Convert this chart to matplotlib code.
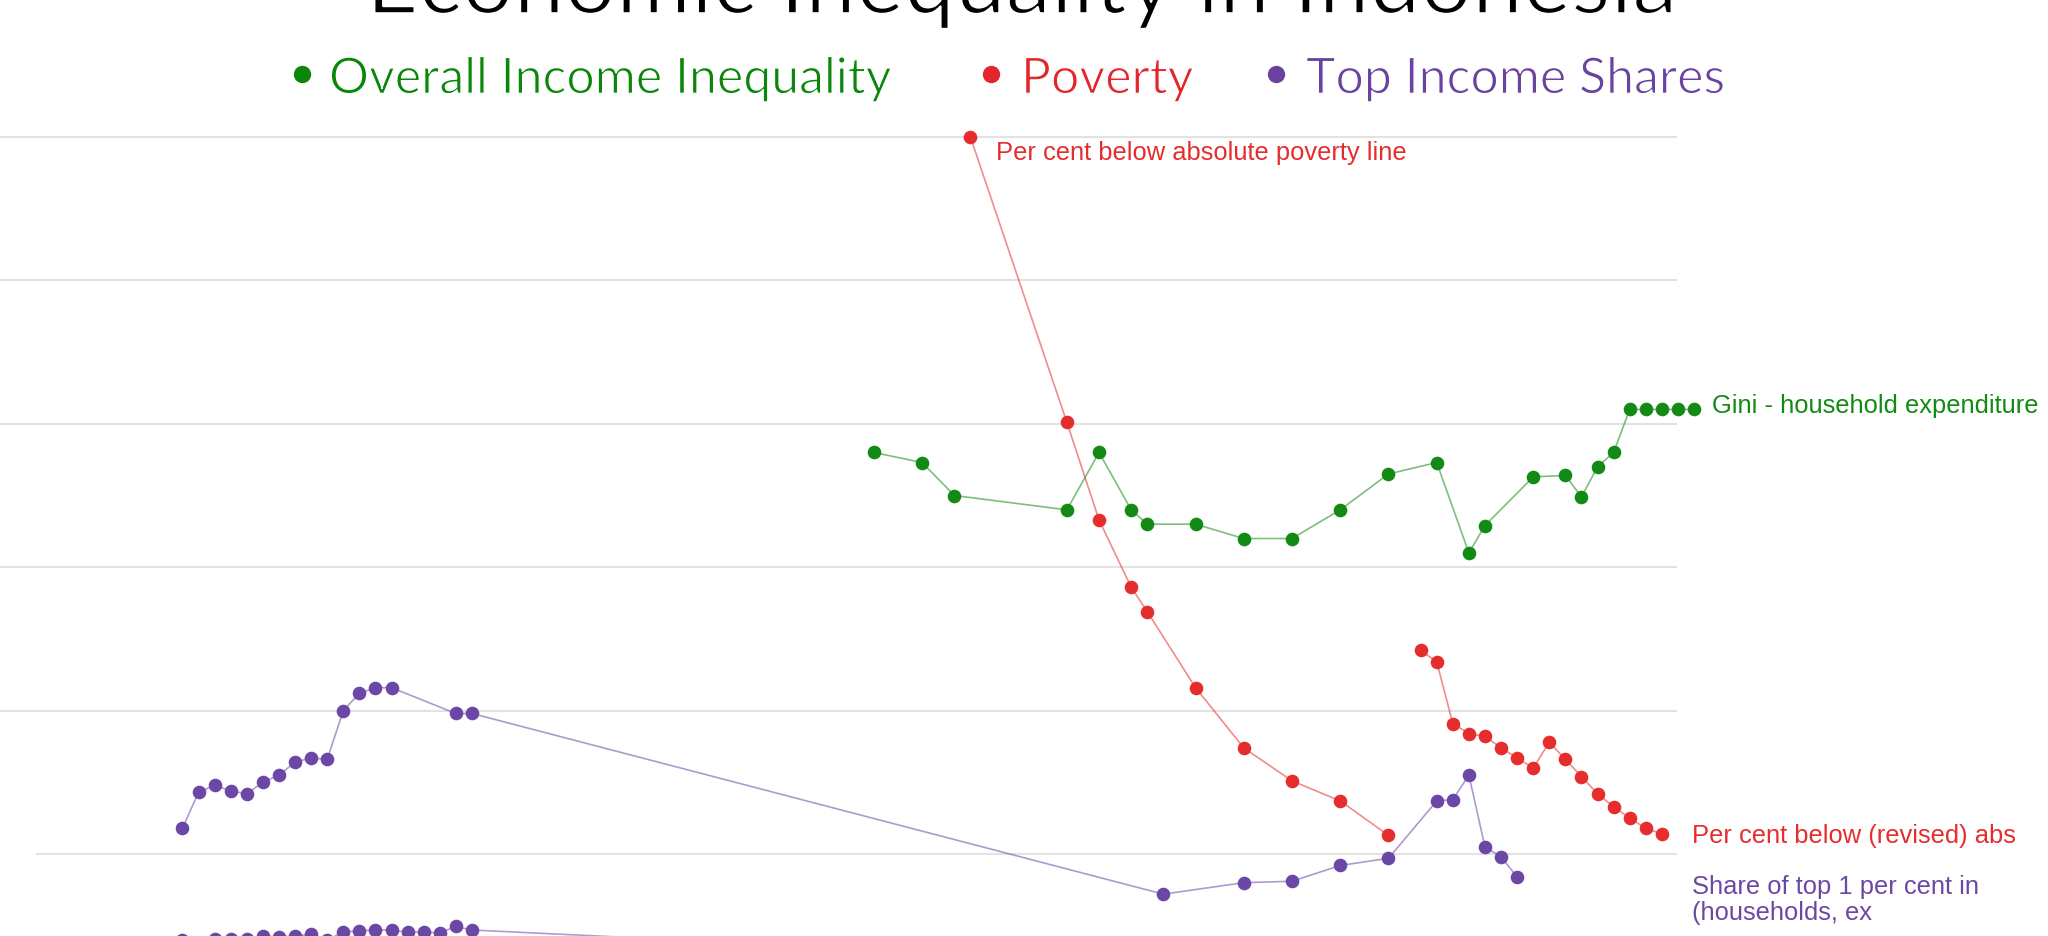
import matplotlib
matplotlib.use('Agg')
import matplotlib.pyplot as plt
import matplotlib.patheffects as pe

W, H = 2048, 936

# ---- data (per cent) ----
gini_years = [1964, 1967, 1969, 1976, 1978, 1980, 1981, 1984, 1987, 1990, 1993, 1996,
              1999, 2001, 2002, 2005, 2007, 2008, 2009, 2010, 2011, 2012, 2013, 2014, 2015]
gini_values = [38.0, 37.3, 35.0, 34.0, 38.0, 34.0, 33.0, 33.0, 32.0, 32.0, 34.0, 36.5,
               37.3, 31.0, 32.9, 36.3, 36.4, 34.9, 37.0, 38.0, 41.0, 41.0, 41.0, 41.0, 41.0]

poverty_years = [1970, 1976, 1978, 1980, 1981, 1984, 1987, 1990, 1993, 1996]
poverty_values = [60.0, 40.1, 33.3, 28.6, 26.9, 21.6, 17.4, 15.1, 13.7, 11.3]

revised_years = [1998, 1999, 2000, 2001, 2002, 2003, 2004, 2005, 2006, 2007,
                 2008, 2009, 2010, 2011, 2012, 2013]
revised_values = [24.2, 23.4, 19.1, 18.4, 18.2, 17.4, 16.7, 16.0, 17.8, 16.6,
                  15.4, 14.2, 13.3, 12.5, 11.8, 11.4]

top1_years = [1921, 1922, 1923, 1924, 1925, 1926, 1927, 1928, 1929, 1930, 1931, 1932,
              1933, 1934, 1938, 1939, 1982, 1987, 1990, 1993, 1996, 1999, 2000, 2001,
              2002, 2003, 2004]
top1_values = [11.8, 14.3, 14.8, 14.4, 14.2, 15.0, 15.5, 16.4, 16.7, 16.6, 20.0, 21.2,
               21.6, 21.6, 19.8, 19.8, 7.2, 8.0, 8.1, 9.2, 9.7, 13.7, 13.8, 15.5,
               10.5, 9.8, 8.4]

# second top-share series, mostly cut off at the bottom edge
top01_years = [1921, 1922, 1923, 1924, 1925, 1926, 1927, 1928, 1929, 1930, 1931, 1932,
               1933, 1934, 1935, 1936, 1937, 1938, 1939, 1982]
top01_values = [4.0, 3.8, 4.08, 4.08, 4.08, 4.28, 4.21, 4.28, 4.4, 4.0, 4.56, 4.65,
                4.7, 4.7, 4.54, 4.58, 4.49, 4.95, 4.7, 2.4]

grid_values = [10, 20, 30, 40, 50, 60]

GREEN = '#138a13'
RED = '#e52d2d'
PURPLE = '#6b48a6'

# pixel <-> data mapping of the original
X0_YEAR, X0_PX, PX_YEAR = 1970, 970.4, 16.08
Y0_VAL, Y0_PX, PX_UNIT = 10, 854, 14.34


def px_to_year(x):
    return X0_YEAR + (x - X0_PX) / PX_YEAR


fig = plt.figure(figsize=(W / 100, H / 100), dpi=100)
ax = fig.add_axes([0, 0, 1, 1])
ax.set_axis_off()
ax.set_xlim(px_to_year(0), px_to_year(W))
ax.set_ylim(Y0_VAL - (H - Y0_PX) / PX_UNIT, Y0_VAL + Y0_PX / PX_UNIT)

# gridlines
for v in grid_values:
    start = 36 if v == 10 else 0
    ax.hlines(v, px_to_year(start), px_to_year(1677), color='#e2e2e2', lw=1.5, zorder=0)

series = [
    (gini_years, gini_values, GREEN),
    (poverty_years, poverty_values, RED),
    (revised_years, revised_values, RED),
    (top1_years, top1_values, PURPLE),
    (top01_years, top01_values, PURPLE),
]
for xs, ys, c in series:
    ax.plot(xs, ys, '-', color=c, alpha=0.55, lw=1.2, zorder=2)
    ax.plot(xs, ys, 'o', color=c, ms=9.8, mec='none', zorder=3)

renderer = fig.canvas.get_renderer()


def ptext(x, y, s, **kw):
    return fig.text(x / W, 1 - y / H, s, ha='left', va='baseline', **kw)


def fit(texts, widths):
    total = sum(t.get_window_extent(renderer).width for t in texts)
    k = sum(widths) / total
    for t in texts:
        t.set_fontsize(t.get_fontsize() * k)


def thin(lw):
    # erode the glyphs a little so regular Lato reads lighter
    return [pe.Stroke(linewidth=lw, foreground='white')]


# title (top cut off in the original)
title = ptext(366, 13.3, 'Economic Inequality in Indonesia', family='Lato',
              fontsize=58, color='black', path_effects=thin(1.6))
fit([title], [1310])

# legend
leg_items = [
    (301.6, 329, 901, 'Overall Income Inequality', '#0a870a'),
    (991, 1021, 1186, 'Poverty', '#e3262b'),
    (1276, 1306, 1726, 'Top Income Shares', '#6a43a0'),
]
leg_texts = []
for bx, tx, tx2, s, c in leg_items:
    ax.plot([bx / W], [1 - 74.3 / H], 'o', color=c, ms=12.5, mec='none',
            transform=ax.transAxes, clip_on=False)
    leg_texts.append(ptext(tx, 93.3, s, family='Lato', fontsize=34, color=c,
                           path_effects=thin(0.9)))
fit(leg_texts, [it[2] - it[1] for it in leg_items])

# series labels
lab_font = dict(family='Liberation Sans', fontsize=16.5)
gini_lab = ptext(1712, 413.3, 'Gini - household expenditure', color=GREEN, **lab_font)
pov_lab = ptext(996.5, 160, 'Per cent below absolute poverty line', color=RED, **lab_font)
fit([gini_lab, pov_lab], [323, 411.5])
size = gini_lab.get_fontsize()
ptext(1692, 842.8, 'Per cent below (revised) abs', color=RED,
      family='Liberation Sans', fontsize=size)
ptext(1692, 894.2, 'Share of top 1 per cent in', color=PURPLE,
      family='Liberation Sans', fontsize=size)
ptext(1692, 919.7, '(households, ex', color=PURPLE,
      family='Liberation Sans', fontsize=size)

fig.savefig('out.png', dpi=100)
